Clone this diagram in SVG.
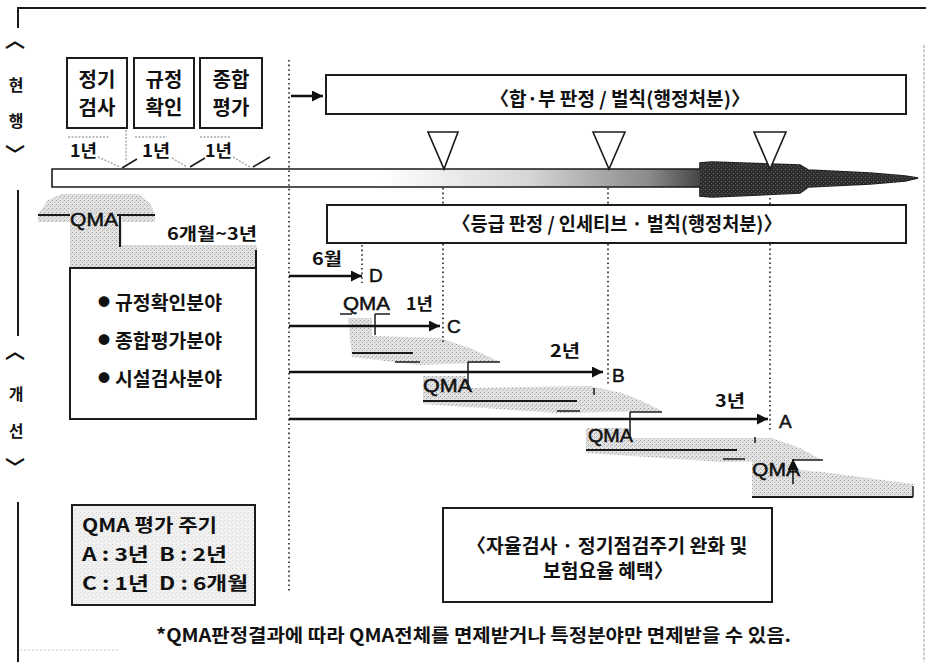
<svg xmlns="http://www.w3.org/2000/svg" width="926" height="662" viewBox="0 0 926 662">
<defs>
<style>
.k{font-family:"Noto Sans CJK KR","Noto Sans",sans-serif;fill:#111;font-weight:bold}
.l{font-family:"Liberation Sans","Noto Sans CJK KR",sans-serif;fill:#111;stroke:#111;stroke-width:0.5}
.box{fill:#fff;stroke:#1c1c1c;stroke-width:2}
.dot{fill:none;stroke:#222;stroke-width:1.6;stroke-dasharray:1.6 3}
.arr{fill:none;stroke:#111;stroke-width:2.5;marker-end:url(#ah)}
.ln{fill:none;stroke:#1a1a1a;stroke-width:2}
.thin{fill:none;stroke:#1a1a1a;stroke-width:1.5}
.gl{fill:none;stroke:#aaa;stroke-width:1.5;stroke-dasharray:2 1.5}
.sp{fill:url(#sp)}
.tri{fill:#fff;stroke:#1a1a1a;stroke-width:1.6}
</style>
<pattern id="sp" width="4" height="4" patternUnits="userSpaceOnUse">
<rect width="4" height="4" fill="#e2e2e2"/>
<rect x="0" y="0" width="1" height="1" fill="#9c9c9c"/>
<rect x="2" y="2" width="1" height="1" fill="#b4b4b4"/>
<rect x="3" y="1" width="1" height="1" fill="#c6c6c6"/>
</pattern>
<pattern id="dk" width="4" height="4" patternUnits="userSpaceOnUse">
<rect width="4" height="4" fill="#2e2e2e"/>
<rect x="1" y="1" width="1" height="1" fill="#6a6a6a"/>
<rect x="3" y="3" width="1" height="1" fill="#555"/>
</pattern>
<linearGradient id="barg" gradientUnits="userSpaceOnUse" x1="52" y1="0" x2="918" y2="0">
<stop offset="0" stop-color="#ffffff"/>
<stop offset="0.38" stop-color="#ffffff"/>
<stop offset="0.55" stop-color="#d6d6d6"/>
<stop offset="0.69" stop-color="#8a8a8a"/>
<stop offset="0.745" stop-color="#4a4a4a"/>
<stop offset="0.76" stop-color="#333333"/>
<stop offset="1" stop-color="#222222"/>
</linearGradient>
<marker id="ah" viewBox="0 0 10 10" refX="10" refY="5" markerUnits="userSpaceOnUse" markerWidth="11" markerHeight="11" orient="auto">
<path d="M0,0 L10,5 L0,10 z" fill="#111"/>
</marker>
</defs>

<g id="frame">
<path class="ln" d="M18,28 V8 H926"/>
<path class="ln" d="M18,190 V336"/>
<path class="ln" d="M18,502 V662"/>
<line x1="924" y1="45" x2="924" y2="662" stroke="#9a9a9a" stroke-width="1" stroke-dasharray="3 1.5"/>
<line x1="20" y1="650" x2="118" y2="650" stroke="#c8c8c8" stroke-width="1" stroke-dasharray="2 2"/>
</g>

<g id="side-current">
<text class="k" x="15" y="48" font-size="20" text-anchor="middle">︿</text>
<text class="k" x="16" y="91" font-size="16" text-anchor="middle">현</text>
<text class="k" x="16" y="127" font-size="16" text-anchor="middle">행</text>
<text class="k" x="15" y="162" font-size="20" text-anchor="middle">﹀</text>
</g>
<g id="side-improve">
<text class="k" x="15" y="359" font-size="20" text-anchor="middle">︿</text>
<text class="k" x="16" y="400" font-size="16" text-anchor="middle">개</text>
<text class="k" x="16" y="437" font-size="16" text-anchor="middle">선</text>
<text class="k" x="15" y="475" font-size="20" text-anchor="middle">﹀</text>
</g>

<g id="timeline">
<path d="M52,169 H700 V163 L712,162 L800,165 L808,170 L870,173 L905,176 L918,178 L905,181 L870,184 L808,187 L800,193 L712,197 L700,196 V187 H52 Z" fill="url(#barg)" stroke="#1a1a1a" stroke-width="1.6"/>
<path d="M700,163 L712,162 L800,165 L808,170 L870,173 L905,176 L918,178 L905,181 L870,184 L808,187 L800,193 L712,197 L700,196 Z" fill="url(#dk)"/>
</g>

<g id="speckles">
<path class="sp" d="M38,214 L48,200 L62,194 L138,194 L150,203 L155,214 L155,222 L122,222 L122,245 L257,245 L257,268 L70,268 L70,222 L38,222 Z"/>
<path class="sp" d="M348,318 L372,318 L372,336 L440,338 L470,348 L500,362 L420,365 L352,357 Z"/>
<path class="sp" d="M423,376 L466,376 L466,388 L590,386 L622,393 L642,401 L662,411 L557,413 L423,404 Z"/>
<path class="sp" d="M586,428 L628,428 L632,438 L745,438 L772,438 L800,448 L822,460 L722,462 L586,453 Z"/>
<path class="sp" d="M752,460 L790,460 L800,470 L822,472 L913,484 L913,497 L752,497 Z"/>
</g>

<g id="node-jeonggi">
<rect class="box" x="67" y="58" width="60" height="70"/>
<text class="k" x="97" y="87" font-size="20" text-anchor="middle">정기</text>
<text class="k" x="97" y="115" font-size="20" text-anchor="middle">검사</text>
</g>
<g id="node-gyujeong">
<rect class="box" x="134" y="58" width="60" height="70"/>
<text class="k" x="164" y="87" font-size="20" text-anchor="middle">규정</text>
<text class="k" x="164" y="115" font-size="20" text-anchor="middle">확인</text>
</g>
<g id="node-jonghap">
<rect class="box" x="200" y="58" width="62" height="70"/>
<text class="k" x="231" y="87" font-size="20" text-anchor="middle">종합</text>
<text class="k" x="231" y="115" font-size="20" text-anchor="middle">평가</text>
</g>

<g id="year-marks">
<line class="gl" x1="68" y1="137" x2="110" y2="137"/>
<line class="gl" x1="135" y1="137" x2="167" y2="137"/>
<line class="gl" x1="200" y1="137" x2="230" y2="137"/>
<line class="gl" x1="126" y1="130" x2="126" y2="162"/>
<line class="gl" x1="98" y1="157" x2="120" y2="167"/>
<line class="gl" x1="172" y1="158" x2="187" y2="167"/>
<line class="gl" x1="233" y1="157" x2="250" y2="167"/>
<line class="thin" x1="122" y1="168" x2="137" y2="159"/>
<line class="thin" x1="190" y1="167" x2="205" y2="158"/>
<line class="thin" x1="253" y1="167" x2="270" y2="157"/>
<text class="k" x="70" y="157" font-size="17" textLength="27" lengthAdjust="spacingAndGlyphs">1년</text>
<text class="k" x="142" y="157" font-size="17" textLength="28" lengthAdjust="spacingAndGlyphs">1년</text>
<text class="k" x="205" y="157" font-size="17" textLength="27" lengthAdjust="spacingAndGlyphs">1년</text>
</g>

<g id="node-pass-fail">
<rect class="box" x="326" y="75" width="580" height="39"/>
<text class="k" x="620" y="106" font-size="19" text-anchor="middle" textLength="260" lengthAdjust="spacingAndGlyphs">〈합·부 판정 / 벌칙(행정처분)〉</text>
</g>

<g id="triangles">
<path class="tri" d="M428,132 H458 L444,169 Z"/>
<path class="tri" d="M593,132 H625 L609,169 Z"/>
<path class="tri" d="M754,132 H786 L770,169 Z"/>
</g>

<g id="node-grade">
<rect class="box" x="327" y="205" width="579" height="38"/>
<text class="k" x="617" y="231" font-size="19" text-anchor="middle" textLength="330" lengthAdjust="spacingAndGlyphs">〈등급 판정 / 인세티브 · 벌칙(행정처분)〉</text>
</g>

<g id="node-qma-left">
<line class="ln" x1="38" y1="215" x2="70" y2="215"/>
<line class="ln" x1="117" y1="215" x2="155" y2="215"/>
<line class="ln" x1="120" y1="215" x2="120" y2="247"/>
<text class="l" x="70" y="226" font-size="18" textLength="48" lengthAdjust="spacingAndGlyphs">QMA</text>
<text class="k" x="167" y="240" font-size="17" textLength="90" lengthAdjust="spacingAndGlyphs">6개월~3년</text>
<line class="ln" x1="256" y1="250" x2="256" y2="268"/>
</g>

<g id="node-fields">
<rect class="box" x="70" y="268" width="186" height="151"/>
<text class="k" x="104" y="307" font-size="12" text-anchor="middle">●</text>
<text class="k" x="115" y="310" font-size="19" textLength="107" lengthAdjust="spacingAndGlyphs">규정확인분야</text>
<text class="k" x="104" y="345" font-size="12" text-anchor="middle">●</text>
<text class="k" x="115" y="348" font-size="19" textLength="107" lengthAdjust="spacingAndGlyphs">종합평가분야</text>
<text class="k" x="104" y="383" font-size="12" text-anchor="middle">●</text>
<text class="k" x="115" y="386" font-size="19" textLength="107" lengthAdjust="spacingAndGlyphs">시설검사분야</text>
</g>

<g id="node-legend">
<rect x="72" y="505" width="183" height="100" fill="url(#sp)" stroke="#1c1c1c" stroke-width="2"/>
<rect x="73" y="506" width="181" height="98" fill="#fff" opacity="0.55"/>
<text class="k" x="82" y="532" font-size="18" textLength="135" lengthAdjust="spacingAndGlyphs">QMA 평가 주기</text>
<text class="k" x="82" y="561" font-size="18" textLength="145" lengthAdjust="spacingAndGlyphs" xml:space="preserve">A : 3년  B : 2년</text>
<text class="k" x="82" y="590" font-size="18" textLength="166" lengthAdjust="spacingAndGlyphs" xml:space="preserve">C : 1년  D : 6개월</text>
</g>

<g id="node-benefit">
<rect class="box" x="443" y="508" width="329" height="94"/>
<text class="k" x="607" y="553" font-size="19" text-anchor="middle" textLength="281" lengthAdjust="spacingAndGlyphs">〈자율검사 · 정기점검주기 완화 및</text>
<text class="k" x="608" y="578" font-size="19" text-anchor="middle" textLength="130" lengthAdjust="spacingAndGlyphs">보험요율 혜택〉</text>
</g>

<g id="footnote">
<text class="k" x="156" y="642" font-size="18" textLength="635" lengthAdjust="spacingAndGlyphs">*QMA판정결과에 따라 QMA전체를 면제받거나 특정분야만 면제받을 수 있음.</text>
</g>

<g id="connectors">
<line class="dot" x1="289" y1="60" x2="289" y2="592"/>
<line class="dot" x1="362" y1="245" x2="362" y2="283"/>
<line class="dot" x1="443" y1="188" x2="443" y2="204"/>
<line class="dot" x1="443" y1="244" x2="443" y2="342"/>
<line class="dot" x1="608" y1="188" x2="608" y2="204"/>
<line class="dot" x1="608" y1="244" x2="608" y2="386"/>
<line class="dot" x1="770" y1="198" x2="770" y2="204"/>
<line class="dot" x1="770" y1="244" x2="770" y2="432"/>
<line class="arr" x1="291" y1="96" x2="323" y2="96"/>
<line class="arr" x1="289" y1="276" x2="362" y2="276"/>
<line class="arr" x1="289" y1="326" x2="440" y2="326"/>
<line class="arr" x1="289" y1="372" x2="603" y2="372"/>
<line class="arr" x1="289" y1="419" x2="768" y2="419"/>
</g>

<g id="labels">
<text class="k" x="312" y="265" font-size="17" textLength="30" lengthAdjust="spacingAndGlyphs">6월</text>
<text class="l" x="369" y="282" font-size="19">D</text>
<text class="l" x="447" y="333" font-size="19">C</text>
<text class="l" x="612" y="382" font-size="19">B</text>
<text class="l" x="779" y="428" font-size="19">A</text>
<text class="k" x="406" y="310" font-size="17" textLength="27" lengthAdjust="spacingAndGlyphs">1년</text>
<text class="k" x="550" y="357" font-size="17" textLength="30" lengthAdjust="spacingAndGlyphs">2년</text>
<text class="k" x="715" y="407" font-size="17" textLength="30" lengthAdjust="spacingAndGlyphs">3년</text>
</g>

<g id="node-qma-c">
<text class="l" x="343" y="310" font-size="18" textLength="47" lengthAdjust="spacingAndGlyphs">QMA</text>
<line class="thin" x1="340" y1="314" x2="352" y2="314"/>
<line class="thin" x1="375" y1="314" x2="390" y2="314"/>
<line class="thin" x1="375" y1="314" x2="375" y2="335"/>
<line class="ln" x1="352" y1="353" x2="413" y2="353"/>
<line class="thin" x1="395" y1="362" x2="420" y2="362"/>
</g>
<g id="node-qma-b">
<text class="l" x="423" y="392" font-size="18" textLength="49" lengthAdjust="spacingAndGlyphs">QMA</text>
<line class="thin" x1="468" y1="362" x2="500" y2="362"/>
<line class="thin" x1="468" y1="362" x2="468" y2="390"/>
<line class="ln" x1="423" y1="401" x2="577" y2="401"/>
<line class="thin" x1="557" y1="411" x2="580" y2="411"/>
<line class="thin" x1="594" y1="388" x2="594" y2="395"/>
</g>
<g id="node-qma-a">
<text class="l" x="588" y="442" font-size="18" textLength="45" lengthAdjust="spacingAndGlyphs">QMA</text>
<line class="thin" x1="630" y1="412" x2="662" y2="412"/>
<line class="thin" x1="630" y1="412" x2="630" y2="437"/>
<line class="ln" x1="586" y1="450" x2="737" y2="450"/>
<line class="thin" x1="723" y1="459" x2="745" y2="459"/>
<line class="thin" x1="755" y1="437" x2="755" y2="443"/>
</g>
<g id="node-qma-next">
<text class="l" x="752" y="476" font-size="18" textLength="48" lengthAdjust="spacingAndGlyphs">QMA</text>
<line class="thin" x1="793" y1="460" x2="823" y2="460"/>
<line x1="793" y1="484" x2="793" y2="459" stroke="#111" stroke-width="1.5" marker-end="url(#ah)"/>
<line class="ln" x1="752" y1="497" x2="913" y2="497"/>
<line class="thin" x1="913" y1="486" x2="913" y2="497"/>
</g>
</svg>
